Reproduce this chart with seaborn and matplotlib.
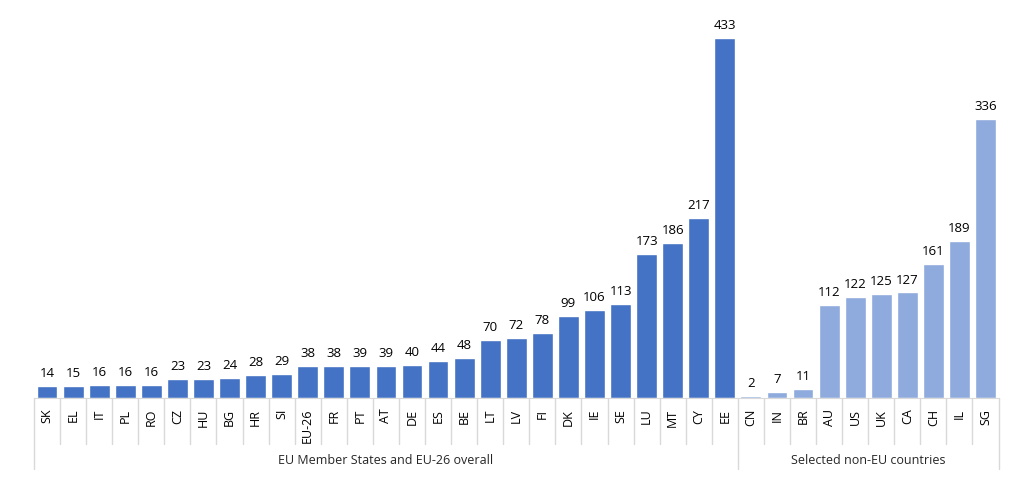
import matplotlib.pyplot as plt
import matplotlib.transforms as mtransforms
import pandas as pd
import seaborn as sns

plt.switch_backend("Agg")

eu_codes = ["SK", "EL", "IT", "PL", "RO", "CZ", "HU", "BG", "HR", "SI", "EU-26",
            "FR", "PT", "AT", "DE", "ES", "BE", "LT", "LV", "FI", "DK", "IE",
            "SE", "LU", "MT", "CY", "EE"]
eu_values = [14, 15, 16, 16, 16, 23, 23, 24, 28, 29, 38, 38, 39, 39, 40, 44, 48,
             70, 72, 78, 99, 106, 113, 173, 186, 217, 433]
non_eu_codes = ["CN", "IN", "BR", "AU", "US", "UK", "CA", "CH", "IL", "SG"]
non_eu_values = [2, 7, 11, 112, 122, 125, 127, 161, 189, 336]
group_names = ["EU Member States and EU-26 overall", "Selected non-EU countries"]

df = pd.DataFrame({
    "code": eu_codes + non_eu_codes,
    "value": eu_values + non_eu_values,
    "group": [group_names[0]] * len(eu_codes) + [group_names[1]] * len(non_eu_codes),
})

sns.set_style("white")
plt.rcParams["font.family"] = ["Open Sans", "DejaVu Sans"]

fig = plt.figure(figsize=(10.18, 4.81), dpi=100)
ax = fig.add_axes([0.0334, 0.1705, 0.9475, 0.7775])

sns.barplot(data=df, x="code", y="value", hue="group", dodge=False, width=0.8,
            palette=["#4472C4", "#8FAADC"], order=df["code"], ax=ax,
            legend=False, saturation=1)

for container in ax.containers:
    ax.bar_label(container, fontsize=9.5, padding=5, color="#000000")

ax.set_ylim(0, 450)
ax.set_xlim(-0.5, len(df) - 0.5)
ax.set_xlabel("")
ax.set_ylabel("")
ax.set_yticks([])
for side in ["left", "right", "top"]:
    ax.spines[side].set_visible(False)
ax.spines["bottom"].set_color("#D9D9D9")
ax.tick_params(axis="x", length=0, pad=7, labelsize=9, colors="#000000")
plt.setp(ax.get_xticklabels(), rotation=90)

trans = mtransforms.blended_transform_factory(ax.transData, ax.transAxes)
n_eu = len(eu_codes)
for i in range(len(df) + 1):
    low = -0.19 if i in (0, n_eu, len(df)) else -0.123
    ax.plot([i - 0.5, i - 0.5], [0, low], color="#D9D9D9", lw=1,
            transform=trans, clip_on=False)

ax.text((n_eu - 1) / 2, -0.165, group_names[0], transform=trans,
        ha="center", va="center", fontsize=9)
ax.text(n_eu + (len(non_eu_codes) - 1) / 2, -0.165, group_names[1],
        transform=trans, ha="center", va="center", fontsize=9)

fig.savefig("out.png", dpi=100)
